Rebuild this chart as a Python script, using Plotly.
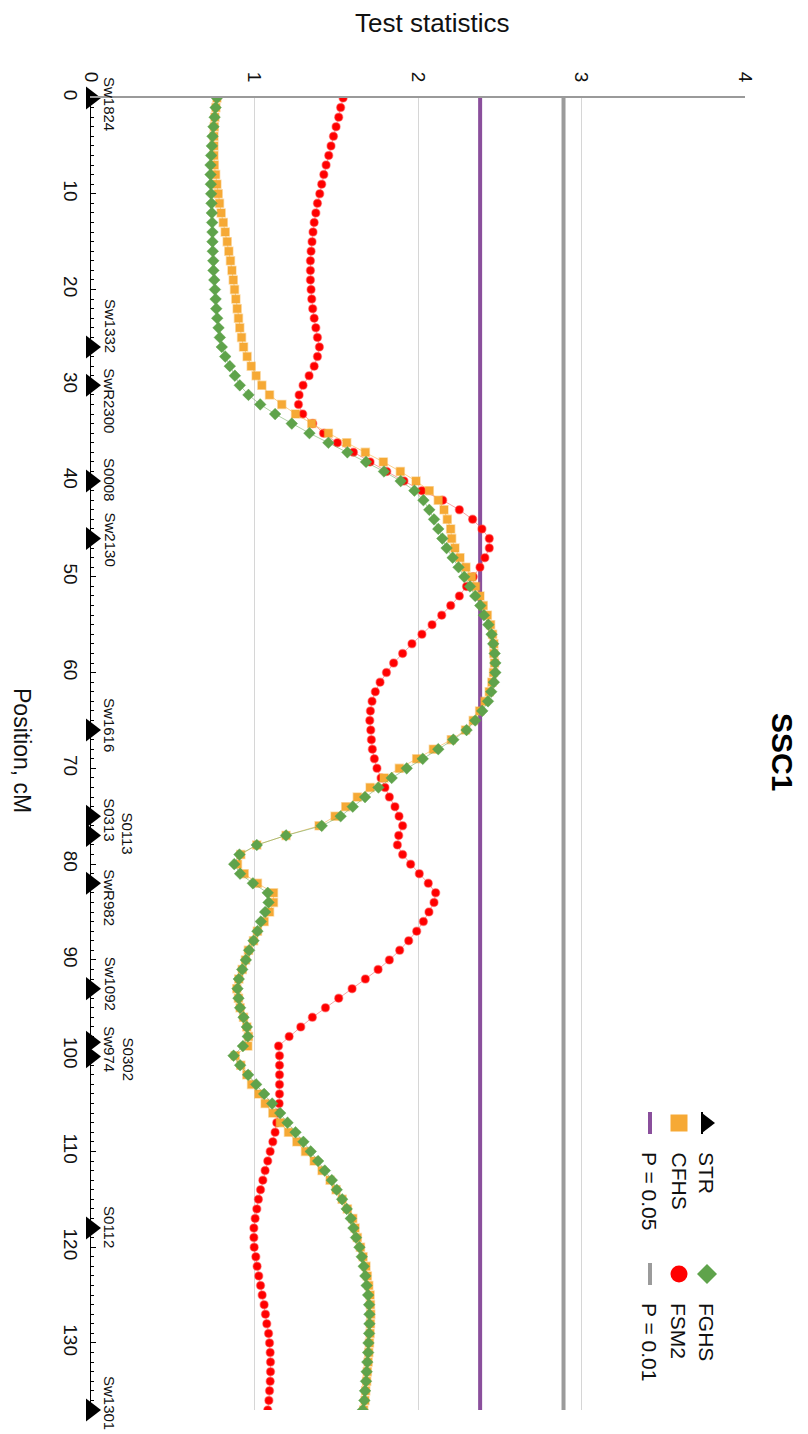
import plotly.graph_objects as go

# ---------------- data ----------------
POSITION_CM = list(range(0, 138))

CFHS = [0.770, 0.764, 0.758, 0.754, 0.752, 0.752, 0.752, 0.754, 0.762, 0.770,
        0.778, 0.786, 0.796, 0.809, 0.821, 0.833, 0.843, 0.853, 0.862, 0.870,
        0.878, 0.886, 0.894, 0.902, 0.910, 0.921, 0.933, 0.955, 0.980, 1.010,
        1.045, 1.092, 1.167, 1.251, 1.350, 1.452, 1.564, 1.678, 1.788, 1.892,
        1.988, 2.069, 2.124, 2.159, 2.179, 2.200, 2.206, 2.226, 2.257, 2.293,
        2.328, 2.352, 2.379, 2.399, 2.424, 2.444, 2.456, 2.464, 2.464, 2.468,
        2.462, 2.452, 2.436, 2.409, 2.377, 2.338, 2.291, 2.204, 2.094, 1.992,
        1.886, 1.792, 1.707, 1.629, 1.558, 1.493, 1.395, 1.193, 1.014, 0.916,
        0.896, 0.937, 1.018, 1.116, 1.116, 1.092, 1.059, 1.018, 0.994, 0.963,
        0.945, 0.925, 0.904, 0.892, 0.902, 0.912, 0.933, 0.953, 0.963, 0.959,
        0.882, 0.916, 0.953, 0.982, 1.026, 1.065, 1.112, 1.157, 1.208, 1.259,
        1.312, 1.365, 1.413, 1.462, 1.499, 1.536, 1.568, 1.601, 1.615, 1.629,
        1.648, 1.664, 1.682, 1.690, 1.699, 1.707, 1.709, 1.711, 1.709, 1.707,
        1.703, 1.699, 1.695, 1.690, 1.686, 1.680, 1.676, 1.668]

FGHS = [0.770, 0.762, 0.756, 0.749, 0.743, 0.739, 0.735, 0.731, 0.731, 0.733,
        0.735, 0.737, 0.739, 0.741, 0.743, 0.743, 0.745, 0.748, 0.749, 0.754,
        0.758, 0.762, 0.766, 0.772, 0.780, 0.788, 0.800, 0.821, 0.849, 0.880,
        0.910, 0.963, 1.035, 1.126, 1.228, 1.336, 1.452, 1.568, 1.682, 1.792,
        1.894, 1.978, 2.033, 2.069, 2.098, 2.124, 2.149, 2.175, 2.212, 2.248,
        2.283, 2.318, 2.350, 2.381, 2.403, 2.430, 2.450, 2.460, 2.469, 2.473,
        2.473, 2.464, 2.448, 2.428, 2.393, 2.350, 2.297, 2.216, 2.124, 2.029,
        1.931, 1.839, 1.758, 1.676, 1.601, 1.527, 1.411, 1.193, 1.014, 0.908,
        0.876, 0.912, 0.990, 1.081, 1.086, 1.065, 1.039, 1.018, 0.994, 0.967,
        0.947, 0.925, 0.904, 0.896, 0.902, 0.912, 0.933, 0.953, 0.959, 0.929,
        0.872, 0.912, 0.961, 1.010, 1.059, 1.108, 1.157, 1.202, 1.251, 1.299,
        1.344, 1.389, 1.430, 1.473, 1.503, 1.536, 1.564, 1.589, 1.605, 1.621,
        1.642, 1.656, 1.668, 1.678, 1.686, 1.695, 1.701, 1.703, 1.703, 1.701,
        1.697, 1.695, 1.690, 1.686, 1.682, 1.676, 1.672, 1.662]

FSM2 = [1.542, 1.527, 1.515, 1.499, 1.483, 1.468, 1.454, 1.438, 1.424, 1.411,
        1.399, 1.385, 1.375, 1.365, 1.358, 1.352, 1.346, 1.342, 1.342, 1.342,
        1.346, 1.350, 1.356, 1.365, 1.375, 1.385, 1.397, 1.385, 1.365, 1.334,
        1.297, 1.273, 1.269, 1.295, 1.356, 1.422, 1.507, 1.605, 1.707, 1.809,
        1.914, 2.024, 2.151, 2.253, 2.334, 2.391, 2.436, 2.436, 2.409, 2.379,
        2.338, 2.297, 2.253, 2.200, 2.145, 2.086, 2.024, 1.963, 1.906, 1.851,
        1.807, 1.768, 1.739, 1.719, 1.709, 1.705, 1.711, 1.715, 1.721, 1.733,
        1.749, 1.774, 1.798, 1.825, 1.859, 1.884, 1.906, 1.882, 1.874, 1.906,
        1.955, 2.008, 2.063, 2.108, 2.098, 2.067, 2.033, 1.992, 1.943, 1.888,
        1.825, 1.756, 1.678, 1.597, 1.515, 1.434, 1.354, 1.283, 1.212, 1.147,
        1.153, 1.153, 1.153, 1.153, 1.153, 1.151, 1.147, 1.136, 1.126, 1.112,
        1.096, 1.081, 1.065, 1.051, 1.037, 1.024, 1.014, 1.004, 0.996, 0.996,
        0.998, 1.008, 1.016, 1.026, 1.037, 1.047, 1.059, 1.067, 1.075, 1.086,
        1.092, 1.096, 1.098, 1.098, 1.096, 1.092, 1.088, 1.081]

MARKER_NAMES = ["Sw1824", "Sw1332", "SwR2300", "S0008", "Sw2130", "Sw1616", "S0313",
                "S0113", "SwR982", "Sw1092", "Sw974", "S0302", "S0112", "Sw1301"]
MARKER_POS = [0, 26, 30, 40, 46, 66, 75, 77, 82, 93, 98.6, 100.1, 118, 137]

P05 = 2.38
P01 = 2.89
X_TICKS = [0, 1, 2, 3, 4]
Y_TICKS = list(range(0, 131, 10))

# ---------------- layout constants ----------------
PAGE_OFF = 8                      # default body margin of the html page
PLOT_L, PLOT_T = 91, 98           # plot area origin in page pixels
PW, PH = 654, 1312                # plot area size
W, H = 808 - PAGE_OFF, 1434 - PAGE_OFF
L, T = PLOT_L - PAGE_OFF, PLOT_T - PAGE_OFF
R, B = W - L - PW, H - T - PH
FONT = "Liberation Sans, Arial, Helvetica, sans-serif"

# label placement (pixel nudges down, and column) for marker names
LABEL_NUDGE = {"Sw1824": 6, "Sw1332": -21, "SwR2300": 15, "S0008": -2, "Sw2130": 1,
               "Sw1616": -5, "S0313": 3, "S0113": -2, "SwR982": 14, "Sw1092": -5,
               "Sw974": 7, "S0302": 2, "S0112": -1, "Sw1301": -7}
LABEL_COL2 = {"S0113", "S0302"}


def px_x(px):
    return (px - PLOT_L) / PW


def px_y(py):
    return (PLOT_T + PH - py) / PH


fig = go.Figure()

fig.add_trace(go.Scatter(
    x=FSM2, y=POSITION_CM, mode="lines+markers", name="FSM2",
    line=dict(color="rgba(240,90,90,0.55)", width=1),
    marker=dict(symbol="circle", size=8, color="#ff0000",
                line=dict(color="rgba(255,60,60,0.45)", width=1.5))))
fig.add_trace(go.Scatter(
    x=CFHS, y=POSITION_CM, mode="lines+markers", name="CFHS",
    line=dict(color="rgba(246,169,53,0.55)", width=1),
    marker=dict(symbol="square", size=8, color="#f6a935",
                line=dict(color="rgba(246,169,53,0.4)", width=1.5))))
fig.add_trace(go.Scatter(
    x=FGHS, y=POSITION_CM, mode="lines+markers", name="FGHS",
    line=dict(color="rgba(110,170,90,0.55)", width=1),
    marker=dict(symbol="diamond", size=9, color="#5fa34b",
                line=dict(color="rgba(95,163,75,0.4)", width=1))))

# STR markers on the position axis
fig.add_trace(go.Scatter(
    x=[0] * len(MARKER_POS), y=MARKER_POS, mode="markers", name="STR",
    marker=dict(symbol="triangle-right", size=20, color="#000000"),
    cliponaxis=False))

shapes = []
# threshold lines
shapes.append(dict(type="line", xref="x", yref="paper", x0=P05, x1=P05, y0=0, y1=1,
                   line=dict(color="#8a4f9c", width=4), layer="below"))
shapes.append(dict(type="line", xref="x", yref="paper", x0=P01, x1=P01, y0=0, y1=1,
                   line=dict(color="#9b9b9b", width=4), layer="below"))

annotations = []
for name, pos in zip(MARKER_NAMES, MARKER_POS):
    annotations.append(dict(
        xref="paper", yref="y", x=0, y=pos, text=name, showarrow=False,
        textangle=90, xanchor="center", yanchor="middle",
        xshift=(37 if name in LABEL_COL2 else 19), yshift=-LABEL_NUDGE[name],
        font=dict(family=FONT, size=15, color="#111111")))

# titles
annotations.append(dict(xref="paper", yref="paper", x=px_x(432), y=px_y(23),
                        text="Test statistics", showarrow=False,
                        xanchor="center", yanchor="middle",
                        font=dict(family=FONT, size=26, color="#111111")))
annotations.append(dict(xref="paper", yref="paper", x=px_x(22), y=px_y(750),
                        text="Position, cM", showarrow=False, textangle=90,
                        xanchor="center", yanchor="middle",
                        font=dict(family=FONT, size=23, color="#111111")))
annotations.append(dict(xref="paper", yref="paper", x=px_x(783), y=px_y(752),
                        text="<b>SSC1</b>", showarrow=False, textangle=90,
                        xanchor="center", yanchor="middle",
                        font=dict(family=FONT, size=30, color="#000000")))

# legend (rotated)
legend_items = [
    ("STR", 707, 1123), ("FGHS", 707, 1274),
    ("CFHS", 679, 1123), ("FSM2", 679, 1274),
    ("P = 0.05", 650, 1123), ("P = 0.01", 650, 1274),
]
for label, cx, cy in legend_items:
    annotations.append(dict(xref="paper", yref="paper", x=px_x(cx), y=px_y(cy + 27),
                            text=label, showarrow=False, textangle=90,
                            xanchor="center", yanchor="top",
                            font=dict(family=FONT, size=21, color="#111111")))


def pix_shape(kind, cx, cy, **kw):
    d = dict(type=kind, xref="paper", yref="paper", xsizemode="pixel", ysizemode="pixel",
             xanchor=px_x(cx), yanchor=px_y(cy))
    d.update(kw)
    return d


# STR symbol
shapes.append(pix_shape("path", 707, 1123, path="M -5 10 L 8 0 L -5 -10 Z",
                        fillcolor="#000000", line=dict(width=0)))
shapes.append(pix_shape("line", 707, 1123, x0=-5, x1=-5, y0=-11, y1=11,
                        line=dict(color="#000000", width=2)))
# FGHS diamond
shapes.append(pix_shape("path", 707, 1274, path="M 0 10 L 10 0 L 0 -10 L -10 0 Z",
                        fillcolor="#5fa34b", line=dict(width=0)))
# CFHS square
shapes.append(pix_shape("rect", 679, 1123, x0=-8.5, x1=8.5, y0=-8.5, y1=8.5,
                        fillcolor="#f6a935", line=dict(width=0)))
# FSM2 circle
shapes.append(pix_shape("circle", 679, 1274, x0=-8.5, x1=8.5, y0=-8.5, y1=8.5,
                        fillcolor="#ff0000", line=dict(width=0)))
# P lines
shapes.append(pix_shape("line", 650, 1123, x0=0, x1=0, y0=-11, y1=11,
                        line=dict(color="#8a4f9c", width=4)))
shapes.append(pix_shape("line", 650, 1274, x0=0, x1=0, y0=-11, y1=11,
                        line=dict(color="#9b9b9b", width=4)))

fig.update_layout(
    width=W, height=H,
    margin=dict(l=L, r=R, t=T, b=B, pad=0, autoexpand=False),
    plot_bgcolor="white", paper_bgcolor="white",
    showlegend=False,
    font=dict(family=FONT, color="#111111"),
    shapes=shapes, annotations=annotations,
    xaxis=dict(range=[0, 4], side="top", tickvals=X_TICKS, tickangle=90,
               tickfont=dict(size=19), ticks="", ticklabelstandoff=7, automargin=False,
               showgrid=True, gridcolor="#d6d6d6", gridwidth=1,
               showline=True, linecolor="#9a9a9a", linewidth=2, zeroline=False),
    yaxis=dict(range=[137, 0], tickvals=Y_TICKS, tickangle=90, automargin=False,
               tickfont=dict(size=19), ticks="inside", ticklen=5, tickcolor="#000000",
               minor=dict(dtick=1, tick0=0, ticks="inside", ticklen=3, tickcolor="#000000"),
               ticklabelstandoff=3,
               showgrid=False, showline=True, linecolor="#000000", linewidth=1,
               zeroline=False),
)

fig.write_html("out.html")
